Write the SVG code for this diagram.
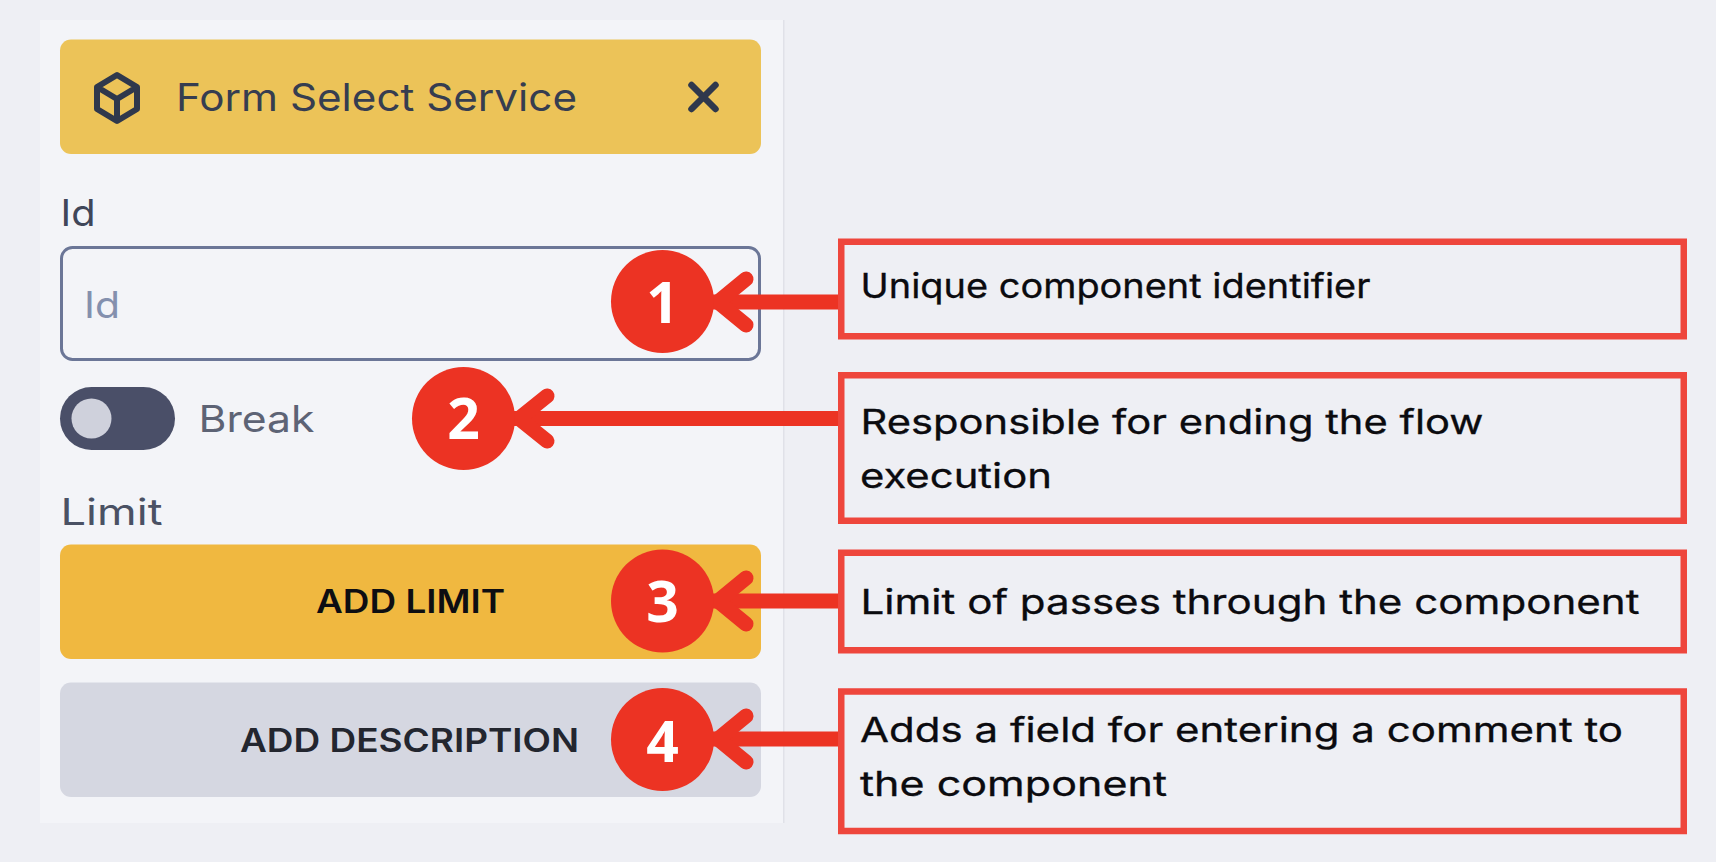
<svg xmlns="http://www.w3.org/2000/svg" width="1716" height="862" viewBox="0 0 1716 862">
<style>
text{font-family:"Inter","Liberation Sans",sans-serif}
.d{font-size:34px;font-weight:400;fill:#0b0b0f;stroke:#0b0b0f;stroke-width:.3}
.l{font-size:37px;font-weight:400;fill:#4a5164}
.b{font-size:32px;font-weight:600}
.n{font-family:"Open Sans","Noto Sans",sans-serif;font-size:57px;font-weight:700;fill:#fff;text-anchor:middle}
.box{fill:#eeeff4;stroke:#ee463c;stroke-width:6.5}
.c{fill:#ec3323}
.s{stroke:#ec3323;stroke-width:15;fill:none}
.h{stroke:#ec3323;stroke-width:15;stroke-linecap:round;stroke-linejoin:round;fill:none}
</style>
<rect width="1716" height="862" fill="#eeeff4"/>
<g id="panel">
<rect x="40" y="20" width="744" height="803" fill="#f3f4f8"/>
<rect x="783" y="20" width="1.5" height="803" fill="#e0e1e8"/>
</g>
<g id="header">
<rect x="60" y="39.500" width="701" height="114.500" rx="11" fill="#ecc358"/>
<path d="M117 75L137 87V109L117 121L97 109V87ZM97 87L117 99L137 87M117 99V121" fill="none" stroke="#2f384c" stroke-width="6" stroke-linejoin="round"/>
<text x="176" y="111" class="l" style="font-size:38px;fill:#363d50" textLength="401" lengthAdjust="spacingAndGlyphs">Form Select Service</text>
<path d="M691.500 85L715.500 109M715.500 85L691.500 109" stroke="#2f384c" stroke-width="6.500" stroke-linecap="round" fill="none"/>
</g>
<g id="id-field">
<text x="60.500" y="226" class="l" style="fill:#3f4659" textLength="35" lengthAdjust="spacingAndGlyphs">Id</text>
<rect x="61.500" y="247.500" width="698" height="112" rx="11" fill="#f3f4f8" stroke="#6b7697" stroke-width="3"/>
<text x="84" y="318" class="l" style="fill:#8490ae" textLength="36" lengthAdjust="spacingAndGlyphs">Id</text>
</g>
<g id="break-toggle">
<rect x="60" y="387" width="115" height="63" rx="31.500" fill="#4a4f68"/>
<circle cx="91.500" cy="418.500" r="20" fill="#cfd1dc"/>
<text x="198.500" y="432" class="l" style="fill:#5d6375" textLength="116" lengthAdjust="spacingAndGlyphs">Break</text>
</g>
<g id="limit">
<text x="60.500" y="525" class="l" style="fill:#4a5164" textLength="102" lengthAdjust="spacingAndGlyphs">Limit</text>
</g>
<g id="add-limit">
<rect x="60" y="544.500" width="701" height="114.500" rx="11" fill="#f0b840"/>
<text x="316" y="613" class="b" fill="#0e0e12" textLength="189" lengthAdjust="spacingAndGlyphs">ADD LIMIT</text>
</g>
<g id="add-description">
<rect x="60" y="682.500" width="701" height="114.500" rx="11" fill="#d5d7e1"/>
<text x="240" y="752" class="b" fill="#23262f" textLength="339" lengthAdjust="spacingAndGlyphs">ADD DESCRIPTION</text>
</g>
<g id="connectors">
<path class="s" d="M838 302H712"/>
<path class="h" d="M746 279L718 302L746 325"/>
<path class="s" d="M838 418.500H513"/>
<path class="h" d="M547 396L519 418.500L547 441"/>
<path class="s" d="M838 601H712"/>
<path class="h" d="M746 578L718 601L746 624"/>
<path class="s" d="M838 739H712"/>
<path class="h" d="M746 716L718 739L746 762"/>
</g>
<g id="marker-1"><circle class="c" cx="662.500" cy="301.500" r="51.500"/><text class="n" x="662.500" y="323">1</text></g>
<g id="marker-2"><circle class="c" cx="463.500" cy="418.500" r="51.500"/><text class="n" x="463.500" y="439">2</text></g>
<g id="marker-3"><circle class="c" cx="662.500" cy="601" r="51.500"/><text class="n" x="662.500" y="622">3</text></g>
<g id="marker-4"><circle class="c" cx="662.500" cy="739.500" r="51.500"/><text class="n" x="662.500" y="762">4</text></g>
<g id="note-1"><rect class="box" x="841.250" y="241.750" width="842.500" height="94.500"/>
<text class="d" x="860.500" y="298" textLength="510" lengthAdjust="spacingAndGlyphs">Unique component identifier</text></g>
<g id="note-2"><rect class="box" x="841.250" y="375.250" width="842.500" height="145.500"/>
<text class="d" x="860.500" y="434" textLength="623" lengthAdjust="spacingAndGlyphs">Responsible for ending the flow</text>
<text class="d" x="860" y="488" textLength="192" lengthAdjust="spacingAndGlyphs">execution</text></g>
<g id="note-3"><rect class="box" x="841.250" y="552.750" width="842.500" height="97.500"/>
<text class="d" x="860.500" y="614" textLength="779" lengthAdjust="spacingAndGlyphs">Limit of passes through the component</text></g>
<g id="note-4"><rect class="box" x="841.250" y="691.500" width="842.500" height="139.500"/>
<text class="d" x="860" y="742" textLength="763" lengthAdjust="spacingAndGlyphs">Adds a field for entering a comment to</text>
<text class="d" x="860" y="796" textLength="307" lengthAdjust="spacingAndGlyphs">the component</text></g>
</svg>
